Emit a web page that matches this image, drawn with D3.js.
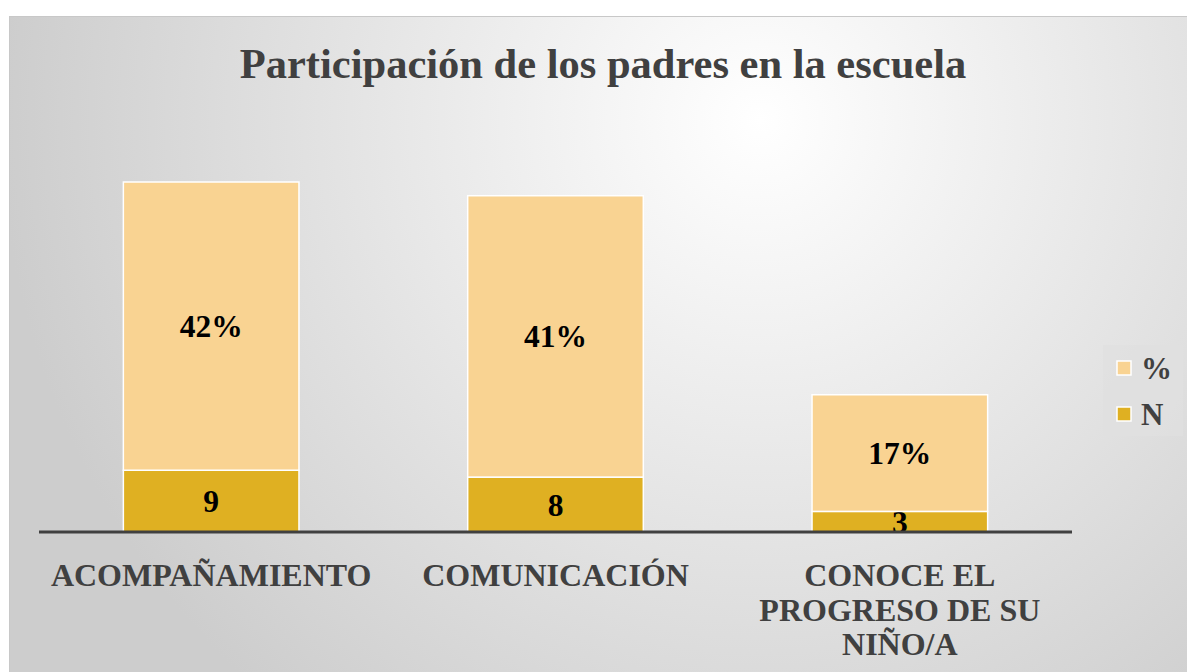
<!DOCTYPE html>
<html>
<head>
<meta charset="utf-8">
<script src="https://cdn.jsdelivr.net/npm/d3@7"></script>
<style>
  body { margin: 0; background: #fff; }
</style>
</head>
<body>
<div id="chart"></div>
<script>
// data
const categories = ["ACOMPAÑAMIENTO", "COMUNICACIÓN", "CONOCE EL PROGRESO DE SU NIÑO/A"];
const labelLines = [["ACOMPAÑAMIENTO"], ["COMUNICACIÓN"], ["CONOCE EL", "PROGRESO DE SU", "NIÑO/A"]];
const nValues = [9, 8, 3];
const pctValues = [42, 41, 17];
const seriesNames = ["%", "N"];

const width = 1187, height = 672;
const colorN = "#dfb022";
const colorPct = "#f9d392";
const textGray = "#404040";
const serif = "'Liberation Serif', 'Times New Roman', Times, serif";

const svg = d3.select("#chart").append("svg")
  .attr("width", width)
  .attr("height", height)
  .style("display", "block");

const defs = svg.append("defs");
const bg = defs.append("radialGradient")
  .attr("id", "bg")
  .attr("gradientUnits", "userSpaceOnUse")
  .attr("cx", 760).attr("cy", 120).attr("r", 760);
bg.append("stop").attr("offset", "0%").attr("stop-color", "#ffffff");
bg.append("stop").attr("offset", "100%").attr("stop-color", "#cdcdcd");

// chart area
svg.append("rect")
  .attr("x", 9).attr("y", 16)
  .attr("width", width - 9).attr("height", height - 16)
  .attr("fill", "url(#bg)");
svg.append("line")
  .attr("x1", 9).attr("x2", width).attr("y1", 16.5).attr("y2", 16.5)
  .attr("stroke", "#c8c8c8").attr("stroke-width", 1);
svg.append("line")
  .attr("x1", 9.5).attr("x2", 9.5).attr("y1", 16).attr("y2", height)
  .attr("stroke", "#c8c8c8").attr("stroke-width", 1);

// title
svg.append("text")
  .attr("x", 603).attr("y", 78)
  .attr("text-anchor", "middle")
  .attr("font-family", serif)
  .attr("font-size", 42.5).attr("font-weight", "bold")
  .attr("fill", textGray)
  .text("Participación de los padres en la escuela");

const x = d3.scaleBand()
  .domain(categories)
  .range([39, 1072])
  .paddingInner(0.49)
  .paddingOuter(0.245);

const y = d3.scaleLinear()
  .domain([0, 51])
  .range([532, 182]);

const rows = categories.map((c, i) => ({ cat: c, N: nValues[i], "%": pctValues[i] }));
const stacked = d3.stack().keys(["N", "%"])(rows);
const colors = { "N": colorN, "%": colorPct };

stacked.forEach(layer => {
  const g = svg.append("g");
  g.selectAll("rect")
    .data(layer)
    .enter()
    .append("rect")
    .attr("x", d => x(d.data.cat))
    .attr("y", d => y(d[1]))
    .attr("width", x.bandwidth())
    .attr("height", d => y(d[0]) - y(d[1]))
    .attr("fill", colors[layer.key])
    .attr("stroke", "#ffffff")
    .attr("stroke-width", 1.5);

  g.selectAll("text")
    .data(layer)
    .enter()
    .append("text")
    .attr("x", d => x(d.data.cat) + x.bandwidth() / 2)
    .attr("y", d => (y(d[0]) + y(d[1])) / 2)
    .attr("dy", "0.35em")
    .attr("text-anchor", "middle")
    .attr("font-family", serif)
    .attr("font-size", 31.5).attr("font-weight", "bold")
    .attr("fill", "#000")
    .text(d => layer.key === "%" ? d.data["%"] + "%" : d.data.N);
});

// axis line
svg.append("line")
  .attr("x1", 39).attr("x2", 1072)
  .attr("y1", 532).attr("y2", 532)
  .attr("stroke", "#404040").attr("stroke-width", 3);

// category labels
categories.forEach((c, i) => {
  const t = svg.append("text")
    .attr("text-anchor", "middle")
    .attr("font-family", serif)
    .attr("font-size", 32).attr("font-weight", "bold")
    .attr("fill", textGray);
  labelLines[i].forEach((line, j) => {
    t.append("tspan")
      .attr("x", x(c) + x.bandwidth() / 2)
      .attr("y", 586 + j * 34.5)
      .text(line);
  });
});

// legend
const legend = svg.append("g").attr("transform", "translate(1103,345)");
legend.append("rect")
  .attr("width", 80).attr("height", 91)
  .attr("fill", "#e0e0e0").attr("opacity", 0.8);
const legendColors = [colorPct, colorN];
seriesNames.forEach((s, i) => {
  const row = legend.append("g").attr("transform", `translate(14,${16 + i * 46})`);
  row.append("rect")
    .attr("width", 14).attr("height", 14)
    .attr("fill", legendColors[i])
    .attr("stroke", "#ffffff").attr("stroke-width", 1.5);
  row.append("text")
    .attr("x", 24).attr("y", 7)
    .attr("dy", "0.35em")
    .attr("font-family", serif)
    .attr("font-size", 31).attr("font-weight", "bold")
    .attr("fill", textGray)
    .text(s);
});
</script>
</body>
</html>
